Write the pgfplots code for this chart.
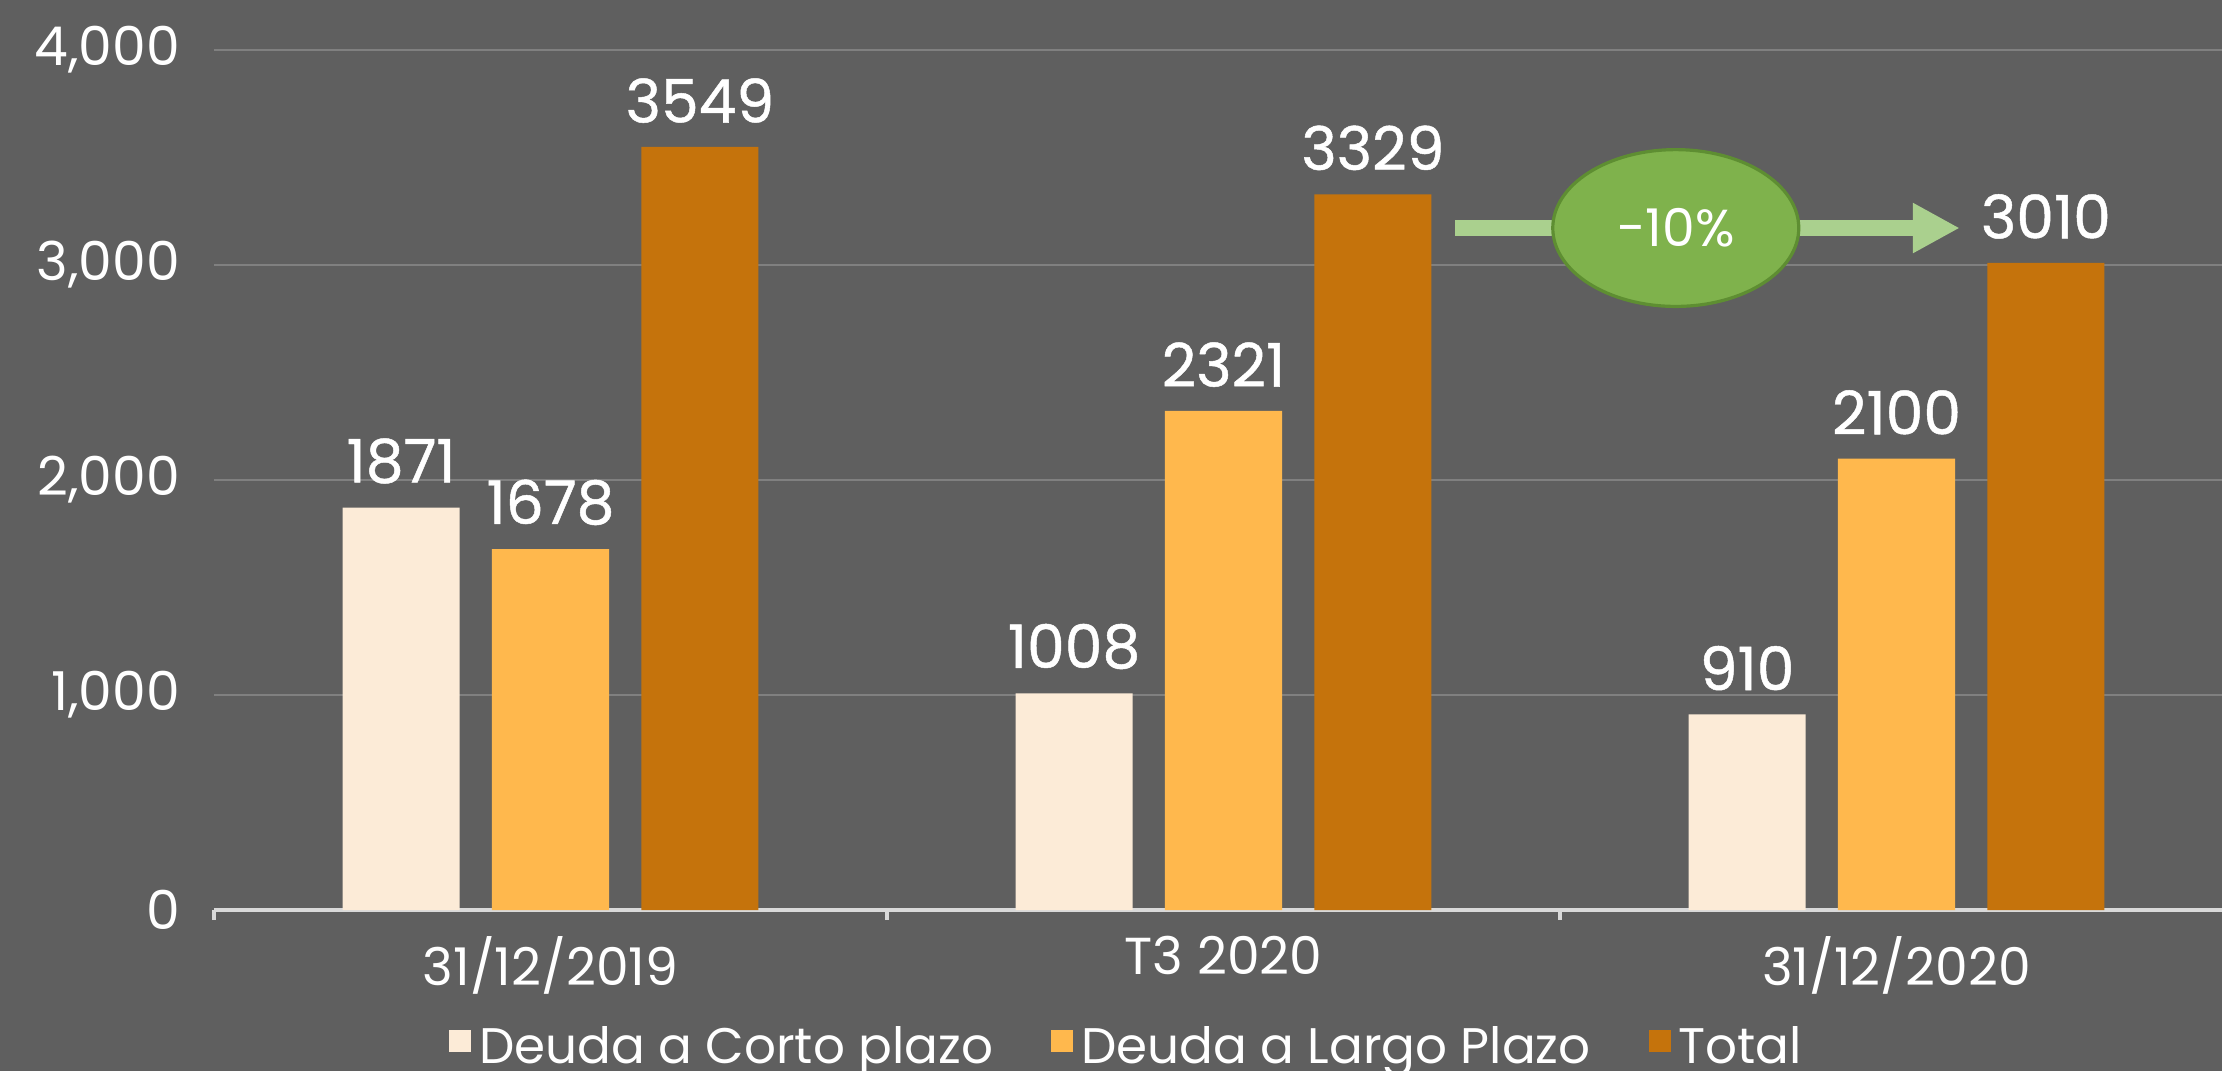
\documentclass[border=0pt]{standalone}
\usepackage{fontspec}
\setmainfont{Poppins}
\newfontfamily\lblfont[FakeBold=0.8]{Poppins}
\usepackage{pgfplots}
\pgfplotsset{compat=1.18}
\usetikzlibrary{arrows.meta}
\definecolor{bg}{RGB}{95,95,95}
\definecolor{gridc}{RGB}{128,128,128}
\definecolor{axc}{RGB}{217,217,217}
\definecolor{corto}{RGB}{252,235,215}
\definecolor{largo}{RGB}{255,184,77}
\definecolor{total}{RGB}{197,115,12}
\definecolor{ellg}{RGB}{127,178,76}
\definecolor{elld}{RGB}{94,142,50}
\definecolor{arrg}{RGB}{170,208,142}
\begin{document}
\begin{tikzpicture}
\path[use as bounding box, fill=bg] (-53.5pt,-40.25pt) rectangle (502pt,227.5pt);
\begin{axis}[
  at={(0,0)}, anchor=south west,
  scale only axis, width=504.75pt, height=215pt,
  xmin=-0.5, xmax=2.5, ymin=0, ymax=4000,
  ybar, bar width=0.174,
  xtick={0,1,2}, xticklabels={31/12/2019, T3 2020, 31/12/2020},
  minor xtick={-0.5,0.5,1.5,2.5},
  ytick={0,1000,2000,3000,4000},
  major tick length=0pt, minor tick length=2.5pt, tick align=outside,
  minor x tick style={draw=axc, line width=0.8pt},
  axis lines*=left, axis line style={-},
  y axis line style={draw=none},
  x axis line style={draw=axc, line width=0.8pt},
  ymajorgrids, grid style={draw=gridc, line width=0.6pt},
  /pgf/number format/assume math mode=true,
  /pgf/number format/1000 sep={,},
  y tick label style={font=\fontsize{13.4}{15}\selectfont, text=white, xshift=-5pt},
  x tick label style={font=\fontsize{13}{15}\selectfont, text=white, yshift=-3pt},
  nodes near coords={\pgfmathprintnumber[1000 sep={}]{\pgfplotspointmeta}},
  every node near coord/.append style={font=\lblfont\fontsize{15}{18}\selectfont, text=white, yshift=2.5pt},
  legend style={draw=none, fill=none, text=white, font=\fontsize{12.5}{15}\selectfont,
    at={(0.4535,-0.161)}, anchor=center, legend columns=3,
    /tikz/every even column/.append style={column sep=12.5pt}, inner sep=0pt},
  legend cell align=left,
  legend image code/.code={\fill[#1,draw=none] (0pt,-0.8pt) rectangle (5.5pt,4.7pt);},
  clip=false,
]
\addplot[fill=corto, draw=none, bar shift=-0.222] coordinates {(0,1871) (1,1008) (2,910)};
\addplot[fill=largo, draw=none, bar shift=0] coordinates {(0,1678) (1,2321) (2,2100)};
\addplot[fill=total, draw=none, bar shift=0.222] coordinates {(0,3549) (1,3329) (2,3010)};
\legend{Deuda a Corto plazo, Deuda a Largo Plazo, Total}
\draw[arrg, line width=3.9pt, -{Triangle[length=11.75pt, width=11.75pt]}] (axis cs:1.344,3172) -- (axis cs:2.094,3172);
\draw[fill=ellg, draw=elld, line width=0.8pt] (axis cs:1.672,3172) ellipse [x radius=30.75pt, y radius=19.6pt];
\node[text=white, font=\fontsize{13}{15}\selectfont] at (axis cs:1.672,3172) {-10\%};
\end{axis}
\end{tikzpicture}
\end{document}
